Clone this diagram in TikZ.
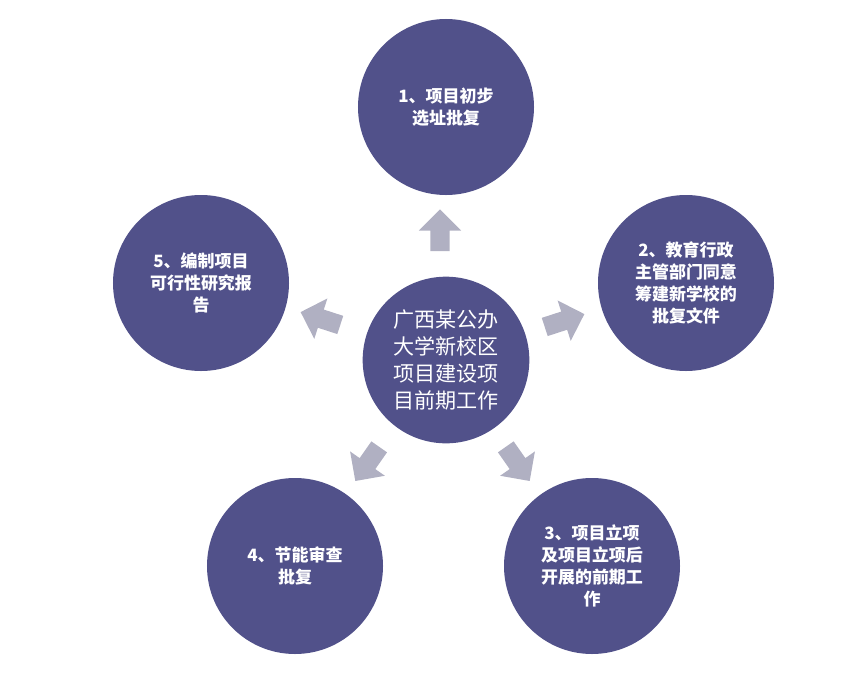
\documentclass[tikz,border=0pt]{standalone}
\usepackage{fontspec}
\newfontfamily\cjk{Noto Sans CJK SC}
\usetikzlibrary{shapes.arrows}
\definecolor{ballfill}{HTML}{51518A}
\definecolor{arrowfill}{HTML}{B0B0C2}
\tikzset{
  ball/.style={circle,fill=ballfill,minimum size=5.28cm,text=white,
    font=\cjk\bfseries\fontsize{14.5}{19}\selectfont,align=center},
  hub/.style={circle,fill=ballfill,minimum size=5cm,text=white,
    font=\cjk\fontsize{18}{23}\selectfont,align=center},
  pointer/.style={single arrow,fill=arrowfill,minimum height=1.25cm,
    inner sep=0.28cm,single arrow head extend=0.35cm,rotate=#1}
}
\begin{document}
\begin{tikzpicture}[x=0.03cm,y=-0.03cm]
  \useasboundingbox (0,0) rectangle (860,693);
  \node[hub] (hub) at (446,360) {广西某公办\\大学新校区\\项目建设项\\目前期工作};
  \node[ball] (s1) at (446,107) {1、项目初步\\选址批复};
  \node[ball] (s2) at (686,283) {2、教育行政\\主管部门同意\\筹建新学校的\\批复文件};
  \node[ball] (s3) at (592,566) {3、项目立项\\及项目立项后\\开展的前期工\\作};
  \node[ball] (s4) at (295,566) {4、节能审查\\批复};
  \node[ball] (s5) at (201,283) {5、编制项目\\可行性研究报\\告};
  \node[pointer=90] (p1) at (440,235) {};
  \node[pointer=18] (p2) at (560,322) {};
  \node[pointer=-55] (p3) at (515,460) {};
  \node[pointer=-125] (p4) at (370,460) {};
  \node[pointer=162] (p5) at (325,320) {};
\end{tikzpicture}
\end{document}
